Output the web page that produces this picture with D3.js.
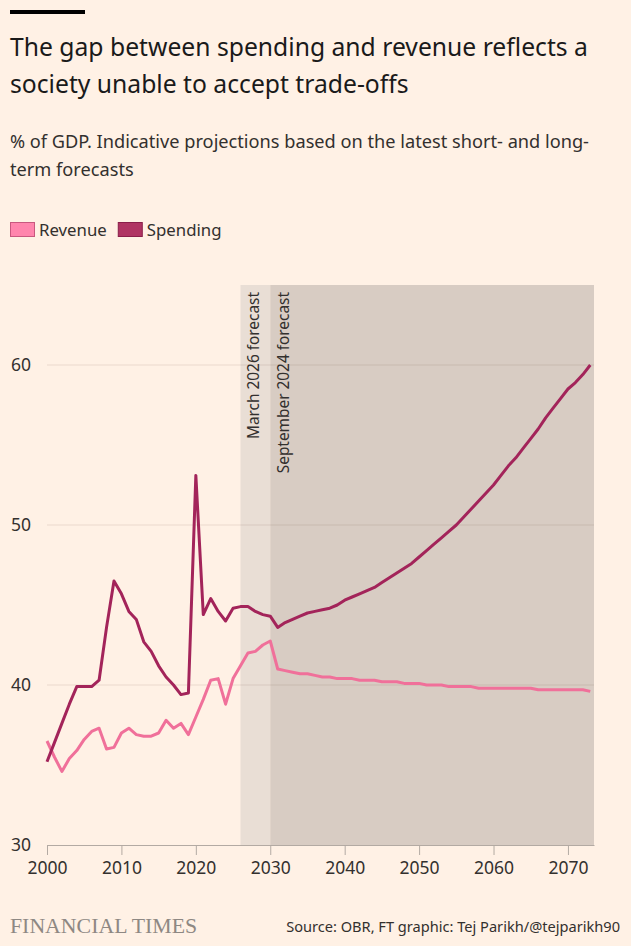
<!DOCTYPE html>
<html>
<head>
<meta charset="utf-8">
<script src="https://cdn.jsdelivr.net/npm/d3@7/dist/d3.min.js"></script>
<style>
  html, body { margin: 0; padding: 0; background: #FFF1E5; }
  svg { display: block; }
</style>
</head>
<body>
<svg id="chart" width="631" height="946"></svg>
<script>
const title = ["The gap between spending and revenue reflects a", "society unable to accept trade-offs"];
const subtitle = ["% of GDP. Indicative projections based on the latest short- and long-", "term forecasts"];
const seriesNames = ["Revenue", "Spending"];
const yTicks = [30, 40, 50, 60];
const xTicks = [2000, 2010, 2020, 2030, 2040, 2050, 2060, 2070];
const forecastBands = [
  { label: "March 2026 forecast", start: 2026, end: 2030 },
  { label: "September 2024 forecast", start: 2030, end: 2073.5 }
];
const years = d3.range(2000, 2074);
const revenue = [
  36.5, 35.5, 34.6, 35.4, 35.9, 36.6, 37.1, 37.3, 36.0, 36.1,
  37.0, 37.3, 36.9, 36.8, 36.8, 37.0, 37.8, 37.3, 37.6, 36.9,
  38.0, 39.1, 40.3, 40.4, 38.8, 40.4, 41.2, 42.0, 42.1, 42.5,
  42.75, 41.0, 40.9, 40.8, 40.7, 40.7, 40.6, 40.5, 40.5, 40.4,
  40.4, 40.4, 40.3, 40.3, 40.3, 40.2, 40.2, 40.2, 40.1, 40.1,
  40.1, 40.0, 40.0, 40.0, 39.9, 39.9, 39.9, 39.9, 39.8, 39.8,
  39.8, 39.8, 39.8, 39.8, 39.8, 39.8, 39.7, 39.7, 39.7, 39.7,
  39.7, 39.7, 39.7, 39.6
];
const spending = [
  35.2, 36.4, 37.6, 38.8, 39.9, 39.9, 39.9, 40.3, 43.6, 46.5,
  45.7, 44.6, 44.1, 42.7, 42.1, 41.2, 40.5, 40.0, 39.4, 39.5,
  53.1, 44.4, 45.4, 44.6, 44.0, 44.8, 44.9, 44.9, 44.6, 44.4,
  44.3, 43.6, 43.9, 44.1, 44.3, 44.5, 44.6, 44.7, 44.8, 45.0,
  45.3, 45.5, 45.7, 45.9, 46.1, 46.4, 46.7, 47.0, 47.3, 47.6,
  48.0, 48.4, 48.8, 49.2, 49.6, 50.0, 50.5, 51.0, 51.5, 52.0,
  52.5, 53.1, 53.7, 54.2, 54.8, 55.4, 56.0, 56.7, 57.3, 57.9,
  58.5, 58.9, 59.4, 60.0
];
const source = "Source: OBR, FT graphic: Tej Parikh/@tejparikh90";

const colors = { Revenue: "#F0709A", Spending: "#A3245A" };
const swatch = { Revenue: { fill: "#FF85AD", stroke: "#C8587F" }, Spending: { fill: "#B03463", stroke: "#8A1E4A" } };
const font = "'Noto Sans', 'Open Sans', sans-serif";
const textColor = "#33302E";

const svg = d3.select("#chart");
svg.append("rect").attr("width", 631).attr("height", 946).attr("fill", "#FFF1E5");

// top bar
svg.append("rect").attr("x", 10).attr("y", 10).attr("width", 75).attr("height", 4).attr("fill", "#000");

// title
svg.append("g").selectAll("text").data(title).join("text")
  .attr("x", 10).attr("y", (d, i) => 56 + i * 37)
  .attr("font-family", font).attr("font-size", 24.7).attr("fill", "#1a1a1a")
  .text(d => d);

svg.append("g").selectAll("text").data(subtitle).join("text")
  .attr("x", 10).attr("y", (d, i) => 148 + i * 28)
  .attr("font-family", font).attr("font-size", 18.2).attr("fill", textColor)
  .text(d => d);

// legend
const leg = svg.append("g").attr("transform", "translate(10,222)");
let lx = 0;
seriesNames.forEach(name => {
  const g = leg.append("g").attr("transform", `translate(${lx},0)`);
  g.append("rect").attr("x", 0.5).attr("y", 0.5).attr("width", 24).attr("height", 14)
    .attr("fill", swatch[name].fill).attr("stroke", swatch[name].stroke).attr("stroke-width", 1);
  const t = g.append("text").attr("x", 29).attr("y", 14)
    .attr("font-family", font).attr("font-size", 16.8).attr("fill", textColor).text(name);
  lx += 29 + t.node().getComputedTextLength() + 11;
});

// scales
const x = d3.scaleLinear().domain([2000, 2073.5]).range([47, 594]);
const y = d3.scaleLinear().domain([30, 65]).range([845, 285]);

// forecast bands
const bandFill = ["#E9DED5", "#D8CCC3"];
svg.append("g").selectAll("rect").data(forecastBands).join("rect")
  .attr("x", d => x(d.start)).attr("width", d => x(d.end) - x(d.start))
  .attr("y", y(65)).attr("height", y(30) - y(65))
  .attr("fill", (d, i) => bandFill[i]);

// gridlines
svg.append("g").selectAll("line").data(yTicks.filter(d => d > 30)).join("line")
  .attr("x1", x(2000)).attr("x2", x(2073.5))
  .attr("y1", d => y(d)).attr("y2", d => y(d))
  .attr("stroke", "rgba(80,50,30,0.12)").attr("stroke-width", 1);

// y labels
svg.append("g").selectAll("text").data(yTicks).join("text")
  .attr("x", 11).attr("y", d => y(d)).attr("dy", "0.36em")
  .attr("font-family", font).attr("font-size", 17.5).attr("fill", textColor)
  .text(d => d);

// x axis
const xAxis = d3.axisBottom(x).tickValues(xTicks).tickFormat(d3.format("d")).tickSize(10).tickSizeOuter(0).tickPadding(5);
const ax = svg.append("g").attr("transform", `translate(0,${y(30)})`).call(xAxis);
ax.select(".domain").attr("stroke", "#b3aaa3");
ax.selectAll(".tick line").attr("stroke", "#b3aaa3");
ax.selectAll(".tick text").attr("font-family", font).attr("font-size", 17.5).attr("fill", textColor).attr("dy", "0.8em");

// band labels
svg.append("g").selectAll("text").data(forecastBands).join("text")
  .attr("transform", d => `translate(${x(d.start) + 19},292) rotate(-90)`)
  .attr("text-anchor", "end")
  .attr("font-family", font).attr("font-size", 15.4).attr("fill", textColor)
  .text(d => d.label);

// lines
const line = d3.line().x(d => x(d[0])).y(d => y(d[1])).curve(d3.curveLinear);
const seriesData = [
  { name: "Revenue", values: years.map((yr, i) => [yr, revenue[i]]) },
  { name: "Spending", values: years.map((yr, i) => [yr, spending[i]]) }
];
svg.append("g").selectAll("path").data(seriesData).join("path")
  .attr("d", d => line(d.values))
  .attr("fill", "none")
  .attr("stroke", d => colors[d.name])
  .attr("stroke-width", 3)
  .attr("stroke-linejoin", "round");

// footer
svg.append("text").attr("x", 10).attr("y", 933)
  .attr("font-family", "'Liberation Serif', 'DejaVu Serif', serif").attr("font-size", 21.8)
  .attr("fill", "#8E8883")
  .text("FINANCIAL TIMES");
svg.append("text").attr("x", 620).attr("y", 932).attr("text-anchor", "end")
  .attr("font-family", font).attr("font-size", 14.6).attr("fill", textColor)
  .text(source);
</script>
</body>
</html>
